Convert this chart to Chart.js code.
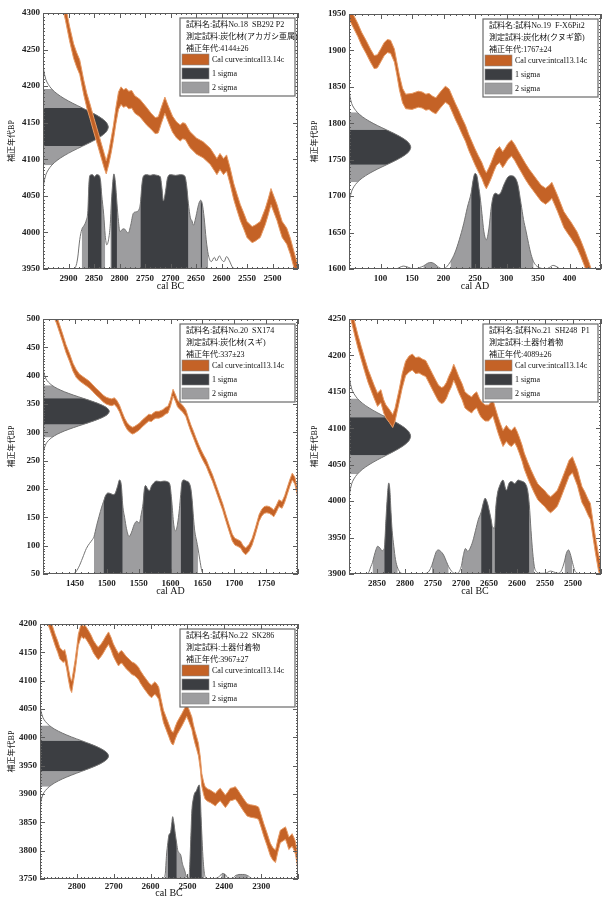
<!DOCTYPE html>
<html>
<head>
<meta charset="utf-8">
<script src="https://cdn.jsdelivr.net/npm/chart.js@4.4.1/dist/chart.umd.min.js"></script>
<style>
  body { margin: 0; background: #fff; width: 605px; height: 899px; position: relative; overflow: hidden; }
  canvas { position: absolute; }
</style>
</head>
<body>
<canvas id="c18" width="302" height="300" style="left:0;top:0"></canvas>
<canvas id="c19" width="302" height="300" style="left:303px;top:0"></canvas>
<canvas id="c20" width="302" height="299" style="left:0;top:306px"></canvas>
<canvas id="c21" width="302" height="299" style="left:303px;top:306px"></canvas>
<canvas id="c22" width="302" height="288" style="left:0;top:611px"></canvas>
<script>
const SERIF = "'Liberation Serif', 'Noto Sans CJK JP', serif";
const ORANGE = '#c46226';
const ORANGE_EDGE = '#e79a64';
const DARK = '#3c3e42';
const LIGHT = '#9d9d9f';
const OUTLINE = '#737373';

const legendKeys = [[ORANGE, 'Cal curve:intcal13.14c'], [DARK, '1 sigma'], [LIGHT, '2 sigma']];

// measured age profile, offsets in sigma and relative height
const gaussOffsets = [3.5, 3, 2.5, 2.25, 2, 1.75, 1.5, 1.25, 1, 0.75, 0.5, 0.25, 0,
  -0.25, -0.5, -0.75, -1, -1.25, -1.5, -1.75, -2, -2.25, -2.5, -3, -3.5];
const gaussHeights = [0.002, 0.011, 0.044, 0.08, 0.135, 0.216, 0.325, 0.458, 0.607, 0.755, 0.882, 0.969, 1,
  0.969, 0.882, 0.755, 0.607, 0.458, 0.325, 0.216, 0.135, 0.08, 0.044, 0.011, 0.002];

// ---- 試料No.18 ----
const info18 = ['試料名:試料No.18  SB292 P2', '測定試料:炭化材(アカガシ亜属)', '補正年代:4144±26'];
const age18 = [4144, 26];
const xRange18 = [2450, 2950];
const yRange18 = [3950, 4300];
const curve18 = [[2910,4312,10],[2906,4300,10],[2898,4272,10],[2890,4248,10],[2884,4236,10],[2878,4226,10],[2870,4198,10],
  [2864,4180,10],[2858,4166,10],[2850,4146,10],[2842,4127,10],[2835,4110,10],[2830,4098,10],[2826,4089,9],[2821,4102,9],
  [2816,4120,10],[2812,4136,10],[2807,4160,11],[2802,4180,12],[2797,4187,12],[2792,4183,12],[2787,4185,12],[2782,4181,12],
  [2776,4182,12],[2770,4175,12],[2760,4170,12],[2747,4159,12],[2738,4152,11],[2730,4146,11],[2724,4147,11],[2718,4160,11],
  [2711,4174,11],[2705,4163,11],[2696,4148,11],[2688,4140,11],[2681,4136,11],[2676,4139,11],[2671,4138,11],[2662,4127,11],
  [2649,4118,11],[2636,4113,11],[2622,4104,11],[2609,4090,11],[2603,4097,11],[2596,4090,11],[2590,4095,11],[2583,4077,11],
  [2576,4056,11],[2569,4040,11],[2563,4027,11],[2556,4015,11],[2550,4004,11],[2540,3997,11],[2534,3999,11],[2524,4004,11],
  [2514,4022,11],[2508,4036,11],[2503,4049,11],[2497,4038,11],[2491,4027,11],[2486,4015,11],[2481,4004,11],[2472,3995,11],
  [2465,3981,11],[2458,3963,11],[2452,3948,11],[2448,3938,11]];
const prob18 = [[2892,3950],[2886,3953],[2882,3965],[2878,3990],[2874,4004],[2869,4010],[2865,4017],[2862,4030],[2860,4066],
  [2858,4078],[2853,4079],[2849,4076],[2845,4079],[2840,4078],[2837,4070],[2835,4052],[2831,4025],[2828,3996],[2825,3983],
  [2821,3992],[2818,4012],[2816,4040],[2813,4070],[2811,4080],[2808,4068],[2805,4040],[2802,4015],[2799,4001],[2795,4004],
  [2791,4005],[2787,4002],[2783,3999],[2778,4010],[2773,4026],[2768,4028],[2763,4030],[2759,4040],[2756,4066],[2753,4077],
  [2747,4079],[2740,4078],[2733,4079],[2726,4078],[2720,4076],[2717,4062],[2714,4043],[2710,4055],[2706,4074],[2700,4079],
  [2690,4078],[2680,4079],[2672,4077],[2668,4062],[2665,4040],[2661,4020],[2658,4016],[2655,4010],[2650,4022],[2645,4038],
  [2641,4044],[2638,4040],[2634,4020],[2630,3990],[2626,3970],[2620,3960],[2614,3966],[2610,3961],[2604,3968],[2600,3963],
  [2595,3960],[2590,3967],[2585,3962],[2578,3952],[2570,3950]];
const sig1_18 = [[2862,2835],[2816,2805],[2759,2665],[2641,2638]];
const sig2_18 = [[2874,2828],[2818,2626]];

// ---- 試料No.19 ----
const info19 = ['試料名:試料No.19  F-X6Pit2', '測定試料:炭化材(クヌギ節)', '補正年代:1767±24'];
const age19 = [1767, 24];
const xRange19 = [50, 450];
const yRange19 = [1600, 1950];
const curve19 = [[47,1958,9],[50,1952,9],[57,1940,9],[64,1928,9],[70,1916,9],[77,1905,9],[84,1893,9],[90,1884,9],[95,1885,9],
  [101,1894,9],[106,1902,9],[111,1906,9],[116,1905,9],[122,1893,9],[126,1875,9],[130,1856,10],[135,1838,10],[140,1830,10],
  [150,1830,11],[160,1833,11],[166,1832,11],[172,1829,11],[177,1830,11],[183,1826,11],[188,1824,11],[194,1831,11],[199,1836,11],
  [203,1840,11],[209,1836,11],[214,1826,11],[219,1816,11],[224,1807,11],[229,1797,11],[235,1786,11],[240,1774,11],[245,1764,11],
  [250,1754,11],[255,1745,11],[261,1735,11],[265,1726,11],[268,1721,11],[272,1728,11],[276,1736,11],[280,1745,11],[284,1753,11],
  [289,1757,11],[294,1750,11],[298,1755,11],[302,1761,11],[308,1766,11],[313,1760,11],[318,1752,11],[324,1743,11],[330,1734,11],
  [336,1726,11],[342,1719,11],[348,1712,11],[355,1704,11],[362,1700,11],[368,1704,11],[372,1708,11],[377,1698,11],[381,1690,11],
  [386,1679,11],[391,1668,11],[397,1660,11],[402,1654,11],[407,1647,11],[412,1640,11],[418,1628,11],[423,1617,11],[428,1605,11],
  [431,1598,11],[434,1590,11]];
const prob19 = [[125,1600],[130,1602],[136,1604],[142,1603],[148,1601],[155,1600],[162,1602],[168,1604],[175,1608],[180,1609],
  [186,1607],[190,1604],[195,1601],[200,1600],[205,1603],[211,1610],[218,1622],[225,1640],[232,1662],[238,1685],[244,1705],
  [247,1722],[250,1731],[253,1728],[256,1712],[258,1700],[261,1676],[264,1652],[268,1640],[272,1655],[276,1686],[279,1700],
  [283,1704],[287,1702],[291,1705],[296,1716],[302,1726],[307,1728],[313,1726],[318,1716],[323,1690],[327,1668],[331,1652],
  [335,1635],[339,1620],[343,1610],[348,1604],[355,1601],[362,1600],[368,1602],[374,1605],[380,1603],[386,1600],[395,1600]];
const sig1_19 = [[244,258],[276,323]];
const sig2_19 = [[168,190],[211,343]];

// ---- 試料No.20 ----
const info20 = ['試料名:試料No.20  SX174', '測定試料:炭化材(スギ)', '補正年代:337±23'];
const age20 = [337, 23];
const xRange20 = [1400, 1800];
const yRange20 = [50, 500];
const curve20 = [[1417,512,7],[1419,505,7],[1421,500,7],[1426,483,7],[1431,466,7],[1436,448,7],[1442,431,7],[1447,415,7],
  [1452,404,7],[1457,397,6],[1463,392,6],[1468,388,6],[1473,384,6],[1478,378,6],[1483,372,6],[1489,366,6],[1494,360,6],
  [1499,356,6],[1504,354,6],[1508,353,6],[1512,355,6],[1516,350,6],[1520,342,6],[1524,330,6],[1528,319,6],[1532,311,6],
  [1536,306,6],[1540,303,6],[1543,304,6],[1547,307,6],[1551,310,6],[1556,316,6],[1562,322,6],[1566,326,6],[1570,325,6],
  [1574,329,6],[1577,331,6],[1582,331,6],[1588,334,6],[1592,338,6],[1596,340,6],[1600,352,6],[1604,370,6],[1608,360,6],
  [1611,351,6],[1615,346,6],[1619,342,6],[1624,334,6],[1628,320,6],[1632,307,6],[1636,296,6],[1640,284,6],[1644,273,6],
  [1648,263,6],[1652,254,6],[1656,246,6],[1661,232,6],[1666,219,6],[1671,203,6],[1676,187,6],[1682,168,6],[1687,149,6],
  [1692,131,6],[1697,114,6],[1701,107,6],[1705,105,6],[1710,102,6],[1714,94,6],[1718,90,6],[1723,96,6],[1728,107,6],
  [1733,125,6],[1739,149,6],[1743,158,6],[1747,163,6],[1751,164,6],[1755,163,6],[1759,160,6],[1762,157,6],[1766,165,6],
  [1770,175,6],[1775,172,6],[1779,182,6],[1783,196,6],[1787,210,6],[1791,222,6],[1795,215,6],[1798,200,6],[1800,190,6],
  [1802,180,6]];
const prob20 = [[1445,50],[1450,52],[1456,62],[1462,78],[1468,95],[1473,104],[1477,110],[1480,116],[1484,135],[1488,152],
  [1492,168],[1495,178],[1498,188],[1502,193],[1506,192],[1510,190],[1513,192],[1517,205],[1520,216],[1523,205],[1525,172],
  [1528,150],[1531,130],[1535,116],[1539,124],[1543,137],[1547,143],[1551,140],[1554,155],[1557,175],[1559,200],[1561,206],
  [1564,200],[1567,197],[1570,205],[1574,211],[1578,214],[1584,213],[1590,214],[1595,213],[1599,208],[1602,178],[1605,138],
  [1608,126],[1611,138],[1614,165],[1616,190],[1618,212],[1621,216],[1625,214],[1629,211],[1632,200],[1634,180],[1636,150],
  [1638,126],[1641,108],[1643,96],[1646,75],[1649,56],[1652,50]];
const sig1_20 = [[1495,1525],[1557,1602],[1616,1636]];
const sig2_20 = [[1480,1643]];

// ---- 試料No.21 ----
const info21 = ['試料名:試料No.21  SH248  P1', '測定試料:土器付着物', '補正年代:4089±26'];
const age21 = [4089, 26];
const xRange21 = [2450, 2900];
const yRange21 = [3900, 4250];
const curve21 = [[2898,4262,9],[2894,4250,9],[2889,4234,9],[2884,4219,9],[2878,4203,9],[2872,4187,9],[2866,4172,9],[2860,4160,9],
  [2855,4150,9],[2849,4139,9],[2846,4142,9],[2843,4144,9],[2838,4130,9],[2834,4123,9],[2828,4117,9],[2822,4110,9],[2818,4118,9],
  [2814,4132,9],[2810,4146,9],[2805,4165,10],[2799,4182,10],[2793,4188,11],[2787,4191,11],[2781,4186,11],[2775,4187,11],
  [2769,4184,11],[2763,4182,11],[2757,4173,11],[2751,4164,11],[2745,4155,11],[2740,4148,11],[2735,4145,11],[2731,4146,11],
  [2726,4152,11],[2722,4160,11],[2717,4168,11],[2713,4177,11],[2709,4170,11],[2704,4160,11],[2698,4150,11],[2693,4139,11],
  [2687,4135,11],[2681,4132,11],[2677,4136,11],[2672,4139,11],[2667,4130,11],[2663,4125,11],[2657,4121,11],[2651,4121,11],
  [2647,4124,11],[2643,4128,11],[2638,4115,11],[2634,4105,11],[2630,4096,11],[2625,4086,11],[2619,4093,11],[2614,4088,11],
  [2610,4086,11],[2604,4091,11],[2600,4085,11],[2596,4077,11],[2591,4066,11],[2587,4055,11],[2581,4043,11],[2575,4032,11],
  [2569,4022,11],[2563,4013,11],[2557,4008,11],[2551,4004,11],[2545,3998,11],[2540,3995,11],[2534,3999,11],[2528,4004,11],
  [2522,4015,11],[2516,4027,11],[2511,4037,11],[2507,4045,11],[2501,4050,11],[2497,4042,11],[2492,4032,11],[2488,4020,11],
  [2484,4009,11],[2479,4002,11],[2475,3995,11],[2472,3990,11],[2469,3986,11],[2465,3965,11],[2460,3940,11],[2455,3918,11],
  [2451,3904,11],[2448,3895,11]];
const prob21 = [[2870,3900],[2865,3902],[2861,3910],[2858,3916],[2855,3925],[2852,3933],[2849,3938],[2845,3936],[2841,3932],
  [2837,3935],[2834,3975],[2831,4012],[2829,4025],[2827,4015],[2825,3985],[2823,3960],[2820,3938],[2817,3920],[2813,3908],
  [2808,3902],[2803,3900],[2790,3900],[2775,3900],[2762,3901],[2757,3904],[2752,3912],[2748,3922],[2744,3931],[2740,3933],
  [2736,3931],[2731,3926],[2726,3917],[2722,3910],[2717,3904],[2712,3901],[2706,3901],[2702,3905],[2699,3912],[2696,3925],
  [2692,3935],[2688,3931],[2684,3935],[2679,3945],[2674,3960],[2669,3975],[2664,3985],[2660,3998],[2657,4004],[2653,3998],
  [2649,3985],[2646,3974],[2644,3965],[2640,3963],[2638,3990],[2635,4010],[2631,4021],[2625,4029],[2619,4015],[2614,4025],
  [2610,4027],[2604,4024],[2598,4029],[2594,4028],[2590,4027],[2585,4024],[2581,4015],[2578,3995],[2575,3960],[2572,3930],
  [2569,3910],[2565,3903],[2560,3901],[2550,3901],[2540,3904],[2535,3903],[2527,3901],[2522,3903],[2518,3910],[2515,3918],
  [2512,3928],[2508,3933],[2505,3928],[2501,3916],[2497,3905],[2492,3901],[2485,3900]];
const sig1_21 = [[2837,2823],[2664,2644],[2640,2578]];
const sig2_21 = [[2858,2813],[2752,2722],[2699,2569],[2515,2501]];

// ---- 試料No.22 ----
const info22 = ['試料名:試料No.22  SK286', '測定試料:土器付着物', '補正年代:3967±27'];
const age22 = [3967, 27];
const xRange22 = [2200, 2900];
const yRange22 = [3750, 4200];
const curve22 = [[2879,4212,10],[2876,4205,10],[2873,4200,10],[2866,4186,10],[2859,4172,10],[2852,4160,10],[2846,4148,10],
  [2841,4145,10],[2837,4142,10],[2833,4145,10],[2828,4132,10],[2823,4112,10],[2818,4095,10],[2814,4089,10],[2810,4105,10],
  [2805,4125,10],[2800,4150,10],[2796,4172,10],[2791,4183,11],[2787,4189,11],[2782,4185,11],[2778,4187,11],[2773,4182,11],
  [2769,4178,11],[2762,4170,11],[2755,4160,11],[2748,4153,11],[2742,4148,11],[2735,4153,11],[2728,4160,11],[2721,4168,11],
  [2714,4175,11],[2707,4165,11],[2701,4154,11],[2694,4145,11],[2687,4137,11],[2682,4141,11],[2678,4142,11],[2671,4136,11],
  [2665,4131,11],[2658,4127,11],[2651,4122,11],[2644,4120,11],[2637,4116,11],[2632,4112,11],[2628,4107,11],[2619,4098,11],
  [2610,4090,11],[2603,4084,11],[2597,4081,11],[2592,4085,11],[2588,4087,11],[2583,4083,11],[2578,4078,11],[2572,4058,11],
  [2565,4037,11],[2558,4025,11],[2551,4013,11],[2546,4004,11],[2542,3999,11],[2538,3998,11],[2533,4008,11],[2528,4016,11],
  [2522,4023,11],[2515,4031,11],[2508,4040,11],[2502,4048,11],[2495,4037,11],[2488,4025,11],[2484,4012,11],[2479,3999,11],
  [2475,3990,11],[2470,3978,11],[2465,3954,11],[2461,3925,11],[2456,3910,11],[2452,3902,11],[2445,3898,11],[2438,3896,11],
  [2431,3893,11],[2424,3890,11],[2418,3895,11],[2411,3899,11],[2404,3893,11],[2397,3887,11],[2390,3893,11],[2384,3899,11],
  [2377,3900,11],[2370,3902,11],[2363,3896,11],[2357,3890,11],[2348,3881,11],[2338,3872,11],[2329,3870,11],[2320,3869,11],
  [2313,3868,11],[2307,3866,11],[2300,3852,11],[2293,3837,11],[2284,3820,11],[2275,3802,11],[2268,3794,11],[2261,3790,11],
  [2255,3808,11],[2248,3825,11],[2241,3828,11],[2234,3831,11],[2229,3822,11],[2225,3813,11],[2220,3816,11],[2216,3819,11],
  [2211,3812,11],[2207,3805,11],[2203,3790,11],[2200,3772,11],[2198,3760,11]];
const prob22 = [[2570,3750],[2565,3752],[2560,3760],[2557,3790],[2553,3815],[2550,3828],[2546,3832],[2543,3845],[2540,3860],
  [2537,3850],[2533,3830],[2529,3812],[2526,3800],[2522,3796],[2518,3792],[2514,3778],[2510,3770],[2506,3762],[2504,3757],
  [2500,3752],[2496,3753],[2494,3770],[2491,3820],[2488,3870],[2484,3892],[2480,3902],[2476,3905],[2472,3912],[2468,3916],
  [2465,3895],[2463,3860],[2461,3830],[2458,3790],[2454,3760],[2450,3752],[2440,3750],[2425,3751],[2416,3753],[2412,3756],
  [2408,3758],[2404,3760],[2400,3759],[2396,3757],[2392,3753],[2385,3751],[2378,3751],[2374,3753],[2370,3756],[2365,3757],
  [2360,3758],[2355,3758],[2350,3758],[2345,3758],[2340,3757],[2334,3755],[2329,3752],[2322,3750]];
const sig1_22 = [[2553,2529],[2494,2461]];
const sig2_22 = [[2560,2504],[2496,2454],[2408,2396],[2370,2334]];

// frame with inward major/minor ticks on all four sides
const frameTicks = {
  id: 'frameTicks',
  afterDatasetsDraw(chart, args, opts) {
    const { ctx, chartArea: a, scales: { x, y } } = chart;
    ctx.save();
    ctx.strokeStyle = '#5c5c5c';
    ctx.lineWidth = 1;
    ctx.strokeRect(a.left + 0.5, a.top + 0.5, a.width - 1, a.height - 1);
    ctx.beginPath();
    const vx = (v, len) => {
      const p = Math.round(x.getPixelForValue(v)) + 0.5;
      ctx.moveTo(p, a.bottom); ctx.lineTo(p, a.bottom - len);
      ctx.moveTo(p, a.top); ctx.lineTo(p, a.top + len);
    };
    const vy = (v, len) => {
      const p = Math.round(y.getPixelForValue(v)) + 0.5;
      ctx.moveTo(a.left, p); ctx.lineTo(a.left + len, p);
      ctx.moveTo(a.right, p); ctx.lineTo(a.right - len, p);
    };
    for (let v = x.min; v <= x.max; v += opts.xMinor) vx(v, 2);
    for (let v = y.min; v <= y.max; v += opts.yMinor) vy(v, 2);
    x.ticks.forEach(t => vx(t.value, 5));
    y.ticks.forEach(t => vy(t.value, 5));
    ctx.stroke();
    ctx.restore();
  }
};

// sample info and key box in the upper right corner
const infoBox = {
  id: 'infoBox',
  afterDraw(chart, args, opts) {
    const { ctx, chartArea: a } = chart;
    const w = 115, h = 78;
    const x0 = a.right - 3 - w, y0 = a.top + 5;
    ctx.save();
    ctx.fillStyle = '#fff';
    ctx.fillRect(x0, y0, w, h);
    ctx.strokeStyle = '#6a6a6a';
    ctx.lineWidth = 1.2;
    ctx.strokeRect(x0, y0, w, h);
    ctx.font = '8px ' + SERIF;
    ctx.textBaseline = 'middle';
    ctx.fillStyle = '#111';
    opts.lines.forEach((t, i) => ctx.fillText(t, x0 + 6, y0 + 7 + i * 12));
    legendKeys.forEach(([c, t], i) => {
      const yy = y0 + 36 + i * 14;
      ctx.fillStyle = c;
      ctx.fillRect(x0 + 2, yy, 27, 11);
      ctx.strokeStyle = '#888';
      ctx.lineWidth = 0.6;
      ctx.strokeRect(x0 + 2, yy, 27, 11);
      ctx.fillStyle = '#111';
      ctx.fillText(t, x0 + 32, yy + 6);
    });
    ctx.restore();
  }
};

function buildPanel(id, p) {
  const [xMin, xMax] = p.xRange;
  const xLeft = p.bc ? xMax : xMin;
  const dir = p.bc ? -1 : 1;
  const within = (v, r) => v >= Math.min(r[0], r[1]) && v <= Math.max(r[0], r[1]);
  const pt = ([x, y]) => ({ x, y });

  const datasets = [
    { data: p.curve.map(([x, y, h]) => ({ x, y: y + h })), borderColor: ORANGE_EDGE, borderWidth: 1, fill: false, order: 0 },
    { data: p.curve.map(([x, y, h]) => ({ x, y: y - h })), borderColor: ORANGE_EDGE, borderWidth: 1,
      backgroundColor: ORANGE, fill: '-1', order: 1 },
    { data: p.prob.map(pt), borderColor: OUTLINE, borderWidth: 1, fill: false, cubicInterpolationMode: 'monotone', order: 2 }
  ];
  p.sig1.forEach(r => datasets.push({
    data: p.prob.filter(q => within(q[0], r)).map(pt), borderColor: 'transparent', borderWidth: 0,
    backgroundColor: DARK, fill: { value: p.yRange[0] }, cubicInterpolationMode: 'monotone', order: 3
  }));
  p.sig2.forEach(r => datasets.push({
    data: p.prob.filter(q => within(q[0], r)).map(pt), borderColor: 'transparent', borderWidth: 0,
    backgroundColor: LIGHT, fill: { value: p.yRange[0] }, cubicInterpolationMode: 'monotone', order: 4
  }));

  // measured 14C age drawn sideways from the left edge
  const g = gaussOffsets.map((o, i) => ({ x: xLeft + dir * gaussHeights[i] * p.peak, y: p.age[0] + o * p.age[1], o }));
  datasets.push({ indexAxis: 'y', data: g, borderColor: OUTLINE, borderWidth: 1, fill: false, tension: 0.3, order: 2 });
  datasets.push({ indexAxis: 'y', data: g.filter(q => Math.abs(q.o) <= 1), borderColor: 'transparent', borderWidth: 0,
    backgroundColor: DARK, fill: { value: xLeft }, tension: 0.3, order: 3 });
  datasets.push({ indexAxis: 'y', data: g.filter(q => Math.abs(q.o) <= 2), borderColor: 'transparent', borderWidth: 0,
    backgroundColor: LIGHT, fill: { value: xLeft }, tension: 0.3, order: 4 });

  const tickFont = { family: SERIF, size: 9, weight: 'bold' };
  return new Chart(document.getElementById(id), {
    type: 'line',
    data: { datasets },
    options: {
      responsive: false,
      animation: false,
      events: [],
      layout: { padding: { left: 0, top: p.padTop, right: p.padRight, bottom: 0 } },
      elements: { point: { radius: 0 }, line: { tension: 0 } },
      plugins: {
        legend: { display: false },
        tooltip: { enabled: false },
        frameTicks: { xMinor: 10, yMinor: 5 },
        infoBox: { lines: p.info }
      },
      scales: {
        x: {
          type: 'linear', min: xMin, max: xMax, reverse: p.bc,
          afterFit: s => { s.height = p.axisH; },
          grid: { display: false, drawTicks: false },
          border: { display: false },
          ticks: {
            stepSize: p.xStep, autoSkip: false, maxRotation: 0, padding: p.tickPad,
            font: tickFont, color: '#222',
            callback: (v, i, arr) => (i === 0 || i === arr.length - 1) ? '' : String(v)
          },
          title: { display: true, text: p.bc ? 'cal BC' : 'cal AD', color: '#111',
            font: { family: SERIF, size: 10 }, padding: { top: 0, bottom: p.titlePad } }
        },
        y: {
          type: 'linear', min: p.yRange[0], max: p.yRange[1],
          afterFit: s => { s.width = p.axisW; },
          grid: { display: false, drawTicks: false },
          border: { display: false },
          ticks: {
            stepSize: 50, autoSkip: false, padding: 3, font: tickFont, color: '#222',
            callback: v => String(v)
          },
          title: { display: true, text: '補正年代BP', color: '#111',
            font: { family: SERIF, size: 8 }, padding: { top: 7, bottom: 0 } }
        }
      }
    },
    plugins: [frameTicks, infoBox]
  });
}

buildPanel('c18', { info: info18, age: age18, xRange: xRange18, yRange: yRange18, curve: curve18, prob: prob18,
  sig1: sig1_18, sig2: sig2_18, bc: true, xStep: 50, peak: 128,
  axisW: 43, axisH: 31, padTop: 13, padRight: 4, tickPad: 4, titlePad: 8 });
buildPanel('c19', { info: info19, age: age19, xRange: xRange19, yRange: yRange19, curve: curve19, prob: prob19,
  sig1: sig1_19, sig2: sig2_19, bc: false, xStep: 50, peak: 98,
  axisW: 46, axisH: 31, padTop: 14, padRight: 1, tickPad: 4, titlePad: 8 });
buildPanel('c20', { info: info20, age: age20, xRange: xRange20, yRange: yRange20, curve: curve20, prob: prob20,
  sig1: sig1_20, sig2: sig2_20, bc: false, xStep: 50, peak: 104,
  axisW: 43, axisH: 31, padTop: 13, padRight: 3, tickPad: 4, titlePad: 8 });
buildPanel('c21', { info: info21, age: age21, xRange: xRange21, yRange: yRange21, curve: curve21, prob: prob21,
  sig1: sig1_21, sig2: sig2_21, bc: true, xStep: 50, peak: 110,
  axisW: 46, axisH: 31, padTop: 13, padRight: 1, tickPad: 4, titlePad: 8 });
buildPanel('c22', { info: info22, age: age22, xRange: xRange22, yRange: yRange22, curve: curve22, prob: prob22,
  sig1: sig1_22, sig2: sig2_22, bc: true, xStep: 100, peak: 186,
  axisW: 40, axisH: 20, padTop: 13, padRight: 4, tickPad: 2, titlePad: 0 });
</script>
</body>
</html>
